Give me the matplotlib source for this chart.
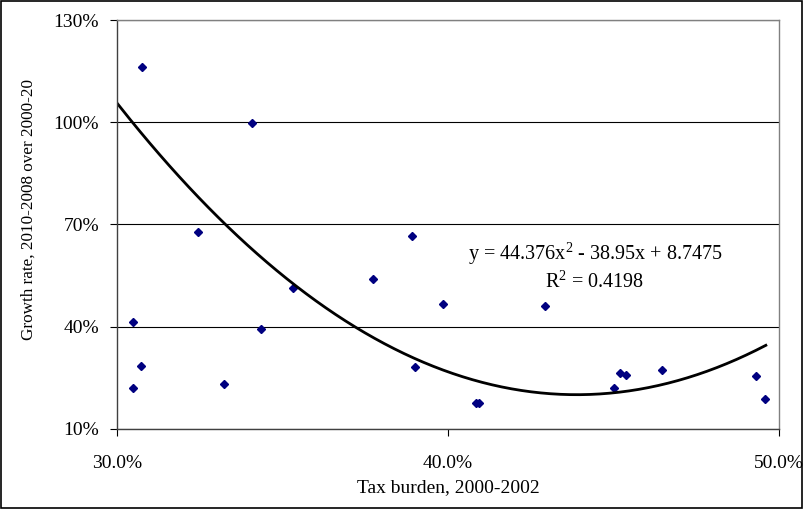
import numpy as np
import matplotlib.pyplot as plt
from matplotlib.patches import Rectangle
from matplotlib.transforms import Bbox

# tax burden 2000-2002 (%) and growth rate (%)
tax_burden = [30.76, 34.08, 32.45, 35.32, 30.48, 34.35, 30.73, 30.48, 33.23,
              38.92, 37.74, 39.86, 42.92, 38.99, 40.85, 40.95,
              45.00, 45.20, 45.38, 46.47, 49.30, 49.57]
growth_rate = [116.2, 99.7, 67.8, 51.3, 41.4, 39.3, 28.5, 22.0, 23.2,
               66.6, 54.0, 46.7, 46.1, 28.3, 17.6, 17.6,
               22.1, 26.5, 25.9, 27.4, 25.6, 18.7]

# polynomial trend (Excel), x and y as fractions
trend_coef = [44.376, -38.95, 8.7475]
trend_range = [30.0, 49.6]

y_ticks = [10, 40, 70, 100, 130]
x_ticks = [30, 40, 50]

plt.rcParams['font.family'] = ['Liberation Serif', 'DejaVu Serif']
plt.rcParams['mathtext.fontset'] = 'custom'
plt.rcParams['mathtext.rm'] = 'Liberation Serif'

fs = 14

fig = plt.figure(figsize=(8.04, 5.09), dpi=100)
ax = fig.add_axes([0.1455, 0.1572, 0.8235, 0.8035])

ax.grid(axis='y', color='black', linewidth=0.8)
ax.set_axisbelow(True)

ax.plot(tax_burden, growth_rate, linestyle='none', marker='D',
        markersize=3.6, color='#000080')

xs = np.linspace(trend_range[0], trend_range[1], 200)
ys = np.polyval(trend_coef, xs / 100) * 100
ax.plot(xs, ys, color='black', linewidth=2.0)

ax.set_xlim(30, 50)
ax.set_ylim(10, 130)
ax.set_yticks(y_ticks)
ax.set_yticklabels(['{}%'.format(v) for v in y_ticks], fontsize=fs)
ax.set_xticks(x_ticks)
ax.set_xticklabels(['{:.1f}%'.format(v) for v in x_ticks], fontsize=fs)
ax.tick_params(axis='y', direction='out', length=5, width=0.8, pad=8)
ax.tick_params(axis='x', direction='out', length=5, width=0.8, pad=14)

for side in ['left', 'bottom']:
    ax.spines[side].set_color('#404040')
    ax.spines[side].set_linewidth(1.0)
for side in ['top', 'right']:
    ax.spines[side].set_color('#808080')
    ax.spines[side].set_linewidth(1.0)

ax.set_xlabel('Tax burden, 2000-2002', fontsize=fs, labelpad=5)

# y label clipped at the top like in the original
ylab = fig.text(29 / 804, 1 - 340 / 509, 'Growth rate, 2010-2008 over 2000-2002',
                rotation=90, ha='left', va='center', rotation_mode='anchor',
                fontsize=12.3)
ylab.set_clip_box(Bbox.from_extents(0, 0, 804, 509 - 80))
ylab.set_clip_on(True)

ax.text(44.44, 61.6, r'y = 44.376x$^{\mathrm{2}}$ - 38.95x + 8.7475',
        ha='center', va='center', fontsize=14.5)
ax.text(44.44, 53.2, r'R$^{\mathrm{2}}$ = 0.4198', ha='center', va='center',
        fontsize=14.5)

fig.patches.append(Rectangle((0.001, 0.001), 0.997, 0.997, fill=False,
                             edgecolor='black', linewidth=1.2,
                             transform=fig.transFigure))

fig.savefig('out.png', dpi=100)
